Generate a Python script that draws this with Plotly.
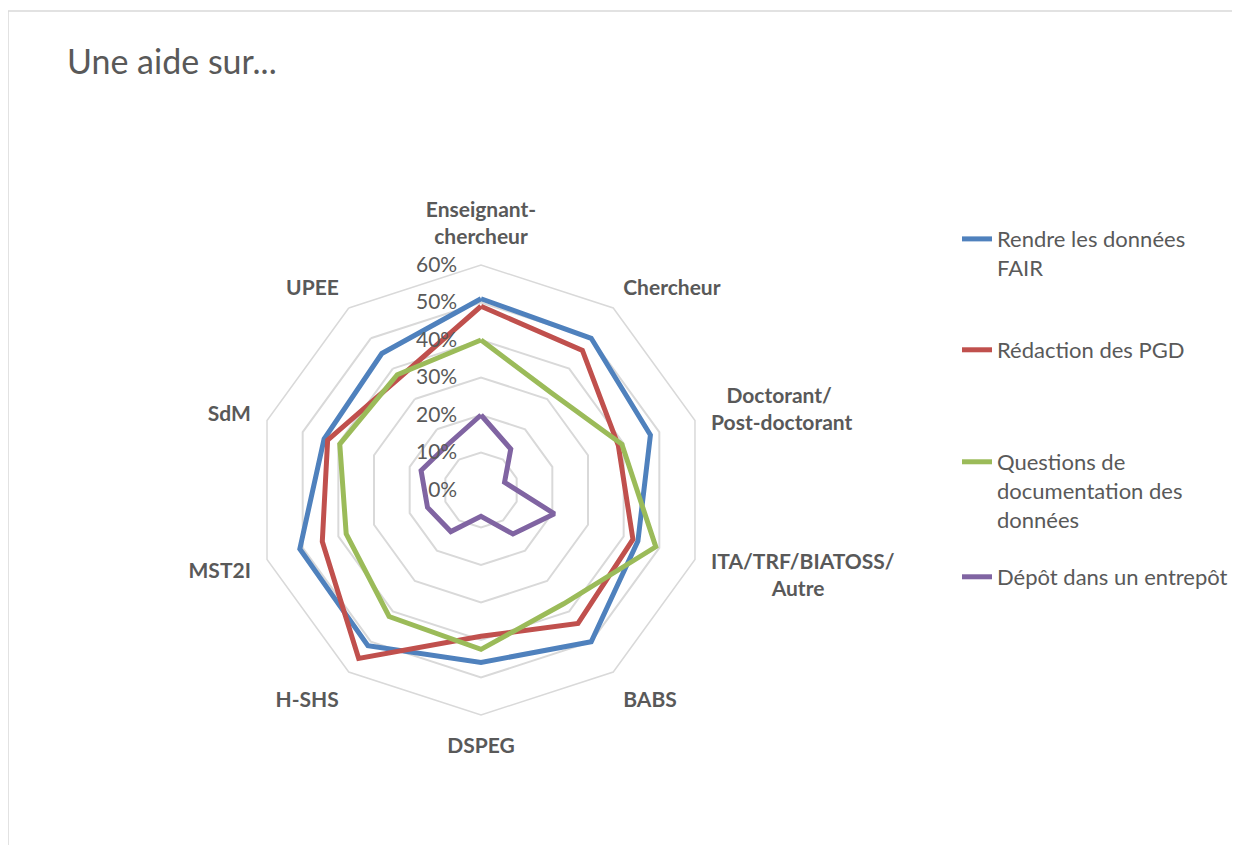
import plotly.graph_objects as go

categories = ['Enseignant-<br>chercheur', 'Chercheur',
              '&nbsp;&nbsp;&nbsp;Doctorant/<br>Post-doctorant',
              'ITA/TRF/BIATOSS/<br>' + '&nbsp;' * 12 + 'Autre',
              'BABS', 'DSPEG', 'H-SHS', 'MST2I', 'SdM', 'UPEE']

series_names = ['Rendre les données<br>FAIR', 'Rédaction des PGD',
                'Questions de<br>documentation des<br>données', 'Dépôt dans un entrepôt']

fair = [0.51, 0.50, 0.475, 0.44, 0.50, 0.46, 0.513, 0.508, 0.44, 0.45]
pgd = [0.49, 0.46, 0.385, 0.426, 0.44, 0.39, 0.555, 0.445, 0.43, 0.37]
doc = [0.40, 0.32, 0.395, 0.49, 0.375, 0.425, 0.417, 0.378, 0.396, 0.38]
depot = [0.20, 0.135, 0.066, 0.206, 0.145, 0.07, 0.137, 0.15, 0.168, 0.15]

colors = ['#4F81BD', '#C0504D', '#9BBB59', '#8064A2']
legend_ids = ['legend', 'legend2', 'legend3', 'legend4']
legend_y = [0.749, 0.6165, 0.4827, 0.3453]

# la page ajoute une marge de 8 px autour de la figure
W, H = 1232, 837

fig = go.Figure()
for name, vals, col, lg in zip(series_names, [fair, pgd, doc, depot], colors, legend_ids):
    fig.add_trace(go.Scatterpolar(
        r=vals + vals[:1],
        theta=categories + categories[:1],
        mode='lines',
        name=name,
        line=dict(color=col, width=5),
        legend=lg,
        showlegend=True,
    ))

font = 'Lato, Open Sans, sans-serif'
legend_style = dict(x=949 / W, xanchor='left', yanchor='top', valign='top',
                    bgcolor='rgba(0,0,0,0)', itemwidth=30,
                    font=dict(family=font, size=22, color='#595959'))

fig.update_layout(
    width=W, height=H,
    showlegend=True,
    margin=dict(l=0, r=0, t=0, b=0),
    paper_bgcolor='white',
    plot_bgcolor='white',
    title=dict(text='Une aide sur...', x=59 / W, xanchor='left', y=1 - 54 / H, yanchor='middle',
               font=dict(family=font, size=34, color='#595959')),
    polar=dict(
        domain=dict(x=[248 / W, 698 / W], y=[1 - 707 / H, 1 - 257 / H]),
        bgcolor='white',
        gridshape='linear',
        radialaxis=dict(range=[0, 0.6], dtick=0.1, tickformat='.0%', angle=90,
                        side='counterclockwise', tickangle=90,
                        showline=False, gridcolor='#d9d9d9', gridwidth=1.5,
                        ticks='outside', ticklen=16, tickcolor='rgba(0,0,0,0)',
                        tickfont=dict(family=font, size=21, color='#595959')),
        angularaxis=dict(rotation=90, direction='clockwise', showgrid=False,
                         showline=True, linecolor='#d9d9d9', linewidth=1.5,
                         ticks='outside', ticklen=12, tickcolor='rgba(0,0,0,0)',
                         tickfont=dict(family=font, size=21, color='#595959', weight='bold')),
    ),
    legend=dict(y=legend_y[0], **legend_style),
    legend2=dict(y=legend_y[1], **legend_style),
    legend3=dict(y=legend_y[2], **legend_style),
    legend4=dict(y=legend_y[3], **legend_style),
    shapes=[dict(type='rect', xref='paper', yref='paper',
                 x0=0, x1=1.01, y0=-0.01, y1=1 - 3 / H,
                 line=dict(color='#d9d9d9', width=1.5))],
)

fig.write_html('out.html')
